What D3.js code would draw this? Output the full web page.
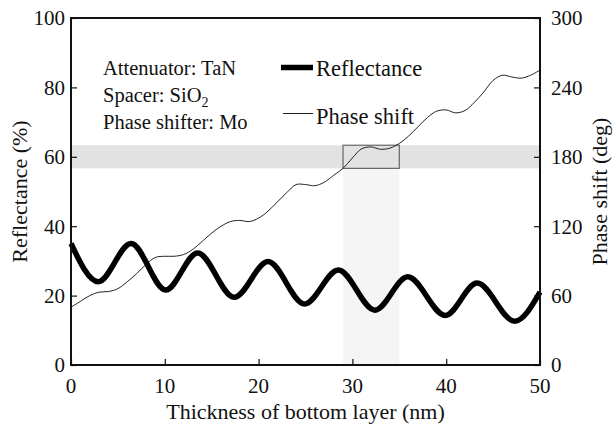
<!DOCTYPE html>
<html>
<head>
<meta charset="utf-8">
<script src="https://cdn.jsdelivr.net/npm/d3@7"></script>
<style>
    body { margin: 0; background: #fff; }
    svg text { font-family: "Liberation Serif", "Times New Roman", serif; fill: #111; }
</style>
</head>
<body>
<div class="graph"></div>
<script>
"use strict";

// Reflectance (%) vs thickness (nm), read at the turning points
var reflThickness = [0, 2.9, 6.4, 10.1, 13.5, 17.4, 21.0, 24.9, 28.5, 32.4, 35.9, 39.9, 43.3, 47.3, 50];
var reflValues = [35, 24, 35, 21.6, 32.3, 19.5, 29.8, 17.6, 27.4, 15.8, 25.4, 14.3, 23.6, 12.6, 21];

// Phase shift (deg) vs thickness (nm)
var phaseThickness = [0, 1, 2, 3, 4, 5, 6, 7, 8, 9, 10, 11, 12, 13, 14, 15, 16, 17, 18, 19, 20,
    21, 22, 23, 24, 25, 26, 27, 28, 29, 30, 31, 32, 33, 34, 35, 36, 37, 38, 39, 40,
    41, 42, 43, 44, 45, 46, 47, 48, 49, 50];
var phaseValues = [50, 55, 60, 63, 63.5, 66, 72, 79, 87, 93, 94, 94, 95.5, 100, 107, 114, 120, 124, 125, 124, 127,
    133, 141, 149, 156, 156, 155, 158, 164, 170, 179, 187, 188.5, 186.5, 187.5, 191.5, 198, 206, 214, 219.5, 220.5,
    218, 220, 227, 236, 246, 250.5, 249, 248, 250.5, 255];

var xTicks = [0, 10, 20, 30, 40, 50];
var leftTicks = [0, 20, 40, 60, 80, 100];
var rightTicks = [0, 60, 120, 180, 240, 300];

var targetPhase = [170, 190];
var targetThickness = [29, 35];

var legendNotes = ["Attenuator: TaN", "Spacer: SiO", "Phase shifter: Mo"];

var width = 614, height = 429;
var plot = { left: 71, right: 540, top: 18, bottom: 365 };

var svg = d3.select(".graph").append("svg").attr("width", width).attr("height", height);

var x = d3.scaleLinear().domain([0, 50]).range([plot.left, plot.right]);
var yL = d3.scaleLinear().domain([0, 100]).range([plot.bottom, plot.top]);
var yR = d3.scaleLinear().domain([0, 300]).range([plot.bottom, plot.top]);

// target window shading
svg.append("rect")
    .attr("x", x(targetThickness[0])).attr("width", x(targetThickness[1]) - x(targetThickness[0]))
    .attr("y", yR(targetPhase[0])).attr("height", plot.bottom - yR(targetPhase[0]))
    .attr("fill", "#f5f5f5");
svg.append("rect")
    .attr("x", plot.left).attr("width", plot.right - plot.left)
    .attr("y", yR(targetPhase[1])).attr("height", yR(targetPhase[0]) - yR(targetPhase[1]))
    .attr("fill", "#e2e2e2");
svg.append("rect")
    .attr("x", x(targetThickness[0])).attr("width", x(targetThickness[1]) - x(targetThickness[0]))
    .attr("y", yR(targetPhase[1])).attr("height", yR(targetPhase[0]) - yR(targetPhase[1]))
    .attr("fill", "none").attr("stroke", "#666").attr("stroke-width", 1.2);

var reflLine = d3.line()
    .x(function (d, i) { return x(reflThickness[i]); })
    .y(function (d) { return yL(d); })
    .curve(d3.curveMonotoneX);
var phaseLine = d3.line()
    .x(function (d, i) { return x(phaseThickness[i]); })
    .y(function (d) { return yR(d); })
    .curve(d3.curveCatmullRom);

svg.append("path").datum(phaseValues).attr("d", phaseLine)
    .attr("fill", "none").attr("stroke", "#222").attr("stroke-width", 1);
svg.append("path").datum(reflValues).attr("d", reflLine)
    .attr("fill", "none").attr("stroke", "#000").attr("stroke-width", 5.5);

// axes
svg.append("g").attr("transform", "translate(0," + plot.bottom + ")")
    .call(d3.axisTop(x).tickValues(xTicks).tickSize(6).tickFormat(""))
    .call(function (g) { g.select(".domain").remove(); });
svg.append("g").attr("transform", "translate(" + plot.left + ",0)")
    .call(d3.axisRight(yL).tickValues(leftTicks).tickSize(6).tickFormat(""))
    .call(function (g) { g.select(".domain").remove(); });
svg.append("g").attr("transform", "translate(" + plot.right + ",0)")
    .call(d3.axisLeft(yR).tickValues(rightTicks).tickSize(6).tickFormat(""))
    .call(function (g) { g.select(".domain").remove(); });
svg.selectAll(".tick line").attr("stroke", "#111").attr("stroke-width", 1.2);

svg.append("rect")
    .attr("x", plot.left).attr("y", plot.top)
    .attr("width", plot.right - plot.left).attr("height", plot.bottom - plot.top)
    .attr("fill", "none").attr("stroke", "#111").attr("stroke-width", 2);

// tick labels
svg.selectAll(".xlab").data(xTicks).enter().append("text")
    .attr("x", function (d) { return x(d); }).attr("y", 393)
    .attr("text-anchor", "middle").attr("font-size", 21).text(function (d) { return d; });
svg.selectAll(".llab").data(leftTicks).enter().append("text")
    .attr("x", 65).attr("y", function (d) { return yL(d); }).attr("dy", "0.35em")
    .attr("text-anchor", "end").attr("font-size", 21).text(function (d) { return d; });
svg.selectAll(".rlab").data(rightTicks).enter().append("text")
    .attr("x", 551).attr("y", function (d) { return yR(d); }).attr("dy", "0.35em")
    .attr("text-anchor", "start").attr("font-size", 21).text(function (d) { return d; });

// axis titles
var midY = (plot.top + plot.bottom) / 2;
svg.append("text").attr("x", (plot.left + plot.right) / 2).attr("y", 419)
    .attr("text-anchor", "middle").attr("font-size", 22).text("Thickness of bottom layer (nm)");
svg.append("text").attr("transform", "translate(27," + midY + ") rotate(-90)")
    .attr("text-anchor", "middle").attr("font-size", 22).text("Reflectance (%)");
svg.append("text").attr("transform", "translate(607," + midY + ") rotate(-90)")
    .attr("text-anchor", "middle").attr("font-size", 22).text("Phase shift (deg)");

// notes
legendNotes.forEach(function (note, i) {
    var t = svg.append("text").attr("x", 103).attr("y", 75 + i * 27).attr("font-size", 20.5).text(note);
    if (i === 1) {
        t.append("tspan").attr("dy", 5).attr("font-size", 14).text("2");
    }
});

// legend
svg.append("line").attr("x1", 281).attr("x2", 313).attr("y1", 67.5).attr("y2", 67.5)
    .attr("stroke", "#000").attr("stroke-width", 5.5);
svg.append("text").attr("x", 316).attr("y", 76).attr("font-size", 22.5).text("Reflectance");
svg.append("line").attr("x1", 283).attr("x2", 313).attr("y1", 113.5).attr("y2", 113.5)
    .attr("stroke", "#222").attr("stroke-width", 1);
svg.append("text").attr("x", 316).attr("y", 124).attr("font-size", 22.5).text("Phase shift");
</script>
</body>
</html>
